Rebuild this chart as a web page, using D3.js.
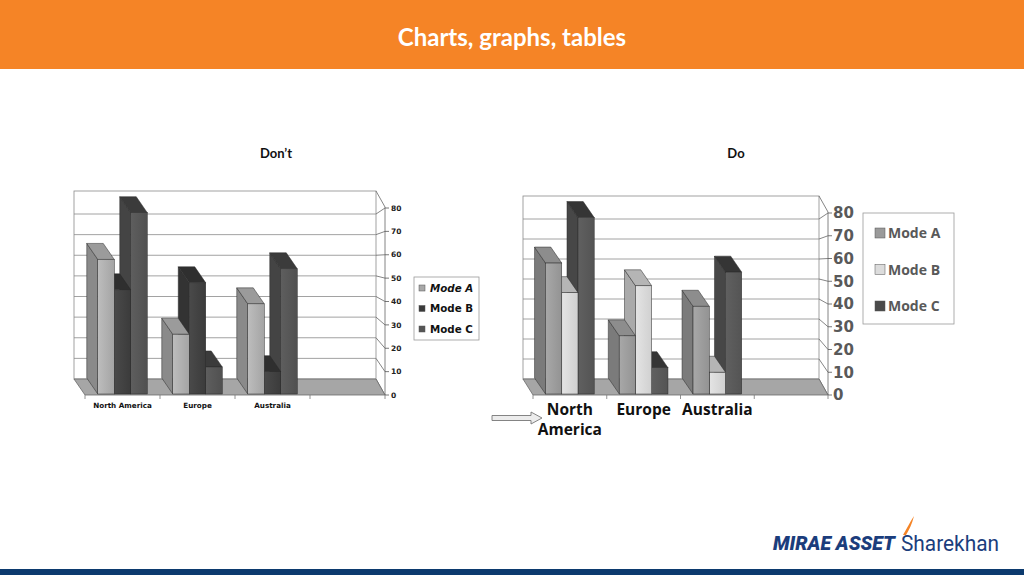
<!DOCTYPE html>
<html>
<head>
<meta charset="utf-8">
<script src="https://cdn.jsdelivr.net/npm/d3@7"></script>
<style>
  body { margin: 0; background: #fff; }
  #slide { width: 1024px; height: 575px; }
</style>
</head>
<body>
<div id="slide"></div>
<script>
const categories = ["North America", "Europe", "Australia"];
const modes = ["Mode A", "Mode B", "Mode C"];
const modeA = [58, 26, 39];
const modeB = [45, 48, 10];
const modeC = [78, 12, 54];
const yTicks = [0, 10, 20, 30, 40, 50, 60, 70, 80];

const series = [modeA, modeB, modeC];

const svg = d3.select("#slide").append("svg")
    .attr("width", 1024)
    .attr("height", 575);
const defs = svg.append("defs");

// header band
svg.append("rect").attr("x", 0).attr("y", 0).attr("width", 1024).attr("height", 69).attr("fill", "#f58426");
svg.append("text")
    .attr("x", 512).attr("y", 46)
    .attr("text-anchor", "middle")
    .attr("font-family", "Lato, 'Open Sans', sans-serif")
    .attr("font-weight", "bold")
    .attr("font-size", 24)
    .attr("fill", "#fff")
    .text("Charts, graphs, tables");

svg.append("text").attr("x", 276).attr("y", 158).attr("text-anchor", "middle")
    .attr("font-family", "Lato, sans-serif").attr("font-weight", "bold").attr("font-size", 13)
    .attr("fill", "#111").text("Don’t");
svg.append("text").attr("x", 736).attr("y", 158).attr("text-anchor", "middle")
    .attr("font-family", "Lato, sans-serif").attr("font-weight", "bold").attr("font-size", 13)
    .attr("fill", "#111").text("Do");

function gradient(id, c1, c2) {
    const g = defs.append("linearGradient").attr("id", id)
        .attr("x1", "0%").attr("y1", "0%").attr("x2", "100%").attr("y2", "0%");
    g.append("stop").attr("offset", "0%").attr("stop-color", c1);
    g.append("stop").attr("offset", "100%").attr("stop-color", c2);
    return `url(#${id})`;
}

function drawChart(cfg) {
    const g = svg.append("g");
    const dx = -11, dy = -16;

    const yFront = d3.scaleLinear().domain([0, 80]).range([cfg.front0, cfg.front80]);
    const yBack = d3.scaleLinear().domain([0, 80]).range([cfg.back0, cfg.back80]);
    const x0 = d3.scaleBand().domain([...categories, ""]).range([cfg.floorL, cfg.floorR]);
    const bw = x0.bandwidth();
    const x1 = d3.scaleBand().domain(modes).range([bw * 0.17, bw * 0.83]);

    // back wall with gridlines
    g.append("rect")
        .attr("x", cfg.wallL).attr("y", cfg.wallTop)
        .attr("width", cfg.wallR - cfg.wallL).attr("height", cfg.back0 - cfg.wallTop)
        .attr("fill", "#fff").attr("stroke", "#8a8a8a").attr("stroke-width", 0.8);
    g.selectAll(".grid").data(yTicks.slice(1)).join("line")
        .attr("x1", cfg.wallL).attr("x2", cfg.wallR)
        .attr("y1", d => yBack(d)).attr("y2", d => yBack(d))
        .attr("stroke", "#8a8a8a").attr("stroke-width", 0.8);

    // side wall diagonals toward the value axis
    g.selectAll(".diag").data(yTicks).join("line")
        .attr("x1", cfg.wallR).attr("x2", cfg.axisX)
        .attr("y1", d => yBack(d)).attr("y2", d => yFront(d))
        .attr("stroke", "#666").attr("stroke-width", 0.8);
    g.append("line").attr("x1", cfg.wallR).attr("x2", cfg.axisX)
        .attr("y1", cfg.wallTop).attr("y2", cfg.wallTop + 16)
        .attr("stroke", "#666").attr("stroke-width", 0.8);
    g.append("line").attr("x1", cfg.axisX).attr("x2", cfg.axisX)
        .attr("y1", cfg.wallTop + 16).attr("y2", yFront(0))
        .attr("stroke", "#666").attr("stroke-width", 0.8);

    // floor
    g.append("path")
        .attr("d", `M${cfg.wallL},${cfg.back0}L${cfg.wallR},${cfg.back0}L${cfg.axisX},${yFront(0)}L${cfg.floorL},${yFront(0)}Z`)
        .attr("fill", "#a6a6a6").attr("stroke", "#6a6a6a").attr("stroke-width", 0.8);

    // value axis ticks and labels
    g.selectAll(".tk").data(yTicks).join("line")
        .attr("x1", cfg.axisX).attr("x2", cfg.axisX + 4)
        .attr("y1", d => yFront(d)).attr("y2", d => yFront(d))
        .attr("stroke", "#555").attr("stroke-width", 0.8);
    g.selectAll(".tl").data(yTicks).join("text")
        .attr("x", cfg.axisX + cfg.tickPad)
        .attr("y", d => yFront(d))
        .attr("dy", "0.36em")
        .attr("font-family", "'DejaVu Sans', Verdana, sans-serif")
        .attr("font-weight", "bold")
        .attr("font-size", cfg.tickSize)
        .attr("fill", cfg.tickColor)
        .text(d => d);

    // category axis ticks
    const bounds = [...categories, ""].map(c => x0(c)).concat([cfg.floorR]);
    g.selectAll(".ct").data(bounds).join("line")
        .attr("x1", d => d).attr("x2", d => d)
        .attr("y1", yFront(0)).attr("y2", yFront(0) + 4)
        .attr("stroke", "#777").attr("stroke-width", 0.8);

    // bars, drawn right to left inside a group so front faces cover neighbours' sides
    categories.forEach((cat, i) => {
        for (let j = modes.length - 1; j >= 0; j--) {
            const v = series[j][i];
            const c = cfg.colors[j];
            const bx = x0(cat) + x1(modes[j]);
            const w = x1.bandwidth();
            const yt = yFront(v), yb = yFront(0) - 1;
            g.append("path")
                .attr("d", `M${bx},${yb}L${bx},${yt}L${bx + dx},${yt + dy}L${bx + dx},${yb + dy}Z`)
                .attr("fill", c.side).attr("stroke", "#2a2a2a").attr("stroke-width", 0.5);
            g.append("path")
                .attr("d", `M${bx},${yt}L${bx + w},${yt}L${bx + w + dx},${yt + dy}L${bx + dx},${yt + dy}Z`)
                .attr("fill", c.top).attr("stroke", "#2a2a2a").attr("stroke-width", 0.5);
            g.append("rect")
                .attr("x", bx).attr("y", yt).attr("width", w).attr("height", yb - yt)
                .attr("fill", gradient(`${cfg.id}-${i}-${j}`, c.front[0], c.front[1]))
                .attr("stroke", "#2a2a2a").attr("stroke-width", 0.5);
        }
    });

    // category labels
    categories.forEach(cat => {
        const lines = cfg.wrap && cat === "North America" ? ["North", "America"] : [cat];
        const t = g.append("text")
            .attr("x", x0(cat) + bw / 2)
            .attr("y", cfg.catY)
            .attr("text-anchor", "middle")
            .attr("font-family", cfg.catFont)
            .attr("font-weight", "bold")
            .attr("font-size", cfg.catSize)
            .attr("fill", "#111");
        lines.forEach((l, k) => t.append("tspan").attr("x", x0(cat) + bw / 2).attr("dy", k ? cfg.catLine : 0).text(l));
    });

    // legend
    const L = cfg.legend;
    g.append("rect").attr("x", L.x).attr("y", L.y).attr("width", L.w).attr("height", L.h)
        .attr("fill", "#fff").attr("stroke", "#999").attr("stroke-width", 0.8);
    modes.forEach((m, j) => {
        const cy = L.y + L.first + j * L.step;
        g.append("rect").attr("x", L.x + L.sx).attr("y", cy - L.s / 2).attr("width", L.s).attr("height", L.s)
            .attr("fill", cfg.colors[j].swatch).attr("stroke", "#555").attr("stroke-width", 0.5);
        g.append("text").attr("x", L.x + L.tx).attr("y", cy).attr("dy", "0.36em")
            .attr("font-family", L.font).attr("font-weight", "bold").attr("font-size", L.size)
            .attr("font-style", cfg.italicFirst && j === 0 ? "italic" : "normal")
            .attr("fill", L.color).text(m);
    });
}

drawChart({
    id: "dont",
    wallL: 74, wallR: 376, wallTop: 191,
    back0: 379, back80: 214,
    front0: 395, front80: 208,
    floorL: 85, floorR: 385, axisX: 385,
    tickPad: 6, tickSize: 7.5, tickColor: "#222",
    catY: 408, catSize: 7.2, catFont: "'DejaVu Sans', Verdana, sans-serif", wrap: false,
    italicFirst: true,
    colors: [
        { front: ["#bdbdbd", "#a4a4a4"], side: "#8a8a8a", top: "#9b9b9b", swatch: "#a8a8a8" },
        { front: ["#4a4a4a", "#3b3b3b"], side: "#333", top: "#2f2f2f", swatch: "#3a3a3a" },
        { front: ["#5e5e5e", "#505050"], side: "#444", top: "#3b3b3b", swatch: "#555" }
    ],
    legend: { x: 414, y: 277, w: 65, h: 63, first: 11, step: 20.5, sx: 5, s: 6, tx: 16,
              font: "'DejaVu Sans', Verdana, sans-serif", size: 10.3, color: "#111" }
});

drawChart({
    id: "do",
    wallL: 523, wallR: 819, wallTop: 196,
    back0: 379, back80: 219,
    front0: 395, front80: 213,
    floorL: 533, floorR: 828, axisX: 828,
    tickPad: 5, tickSize: 15, tickColor: "#595959",
    catY: 415, catSize: 15.5, catFont: "'Open Sans', sans-serif", wrap: true, catLine: 20,
    italicFirst: false,
    colors: [
        { front: ["#a8a8a8", "#939393"], side: "#7b7b7b", top: "#8d8d8d", swatch: "#9a9a9a" },
        { front: ["#e4e4e4", "#d0d0d0"], side: "#aaaaaa", top: "#b5b5b5", swatch: "#dcdcdc" },
        { front: ["#606060", "#545454"], side: "#474747", top: "#353535", swatch: "#4a4a4a" }
    ],
    legend: { x: 863, y: 213, w: 91, h: 111, first: 20, step: 36.5, sx: 12, s: 10, tx: 25,
              font: "'Open Sans', sans-serif", size: 14, color: "#595959" }
});

// hollow arrow pointing at the first category
svg.append("path")
    .attr("d", "M492,415.5L531,415.5L531,412L542,418L531,424L531,420.5L492,420.5Z")
    .attr("fill", "#ececec").attr("stroke", "#777").attr("stroke-width", 0.9);

// footer logo
svg.append("text").attr("x", 773).attr("y", 550)
    .attr("font-family", "Roboto, 'Open Sans', sans-serif").attr("font-weight", 900)
    .attr("font-style", "italic").attr("font-size", 20).attr("fill", "#1b3d7c")
    .attr("textLength", 122).attr("lengthAdjust", "spacingAndGlyphs")
    .text("MIRAE ASSET");
svg.append("path")
    .attr("d", "M903,535C907,528 910,522 914,516C912,524 909,530 906,535Z")
    .attr("fill", "#f58426");
svg.append("text").attr("x", 901).attr("y", 551)
    .attr("font-family", "Roboto, 'Open Sans', sans-serif").attr("font-weight", 400)
    .attr("font-size", 22).attr("fill", "#1b3d7c")
    .attr("textLength", 98).attr("lengthAdjust", "spacingAndGlyphs")
    .text("Sharekhan");
svg.append("rect").attr("x", 0).attr("y", 569).attr("width", 1024).attr("height", 6).attr("fill", "#0c3a6e");
</script>
</body>
</html>
